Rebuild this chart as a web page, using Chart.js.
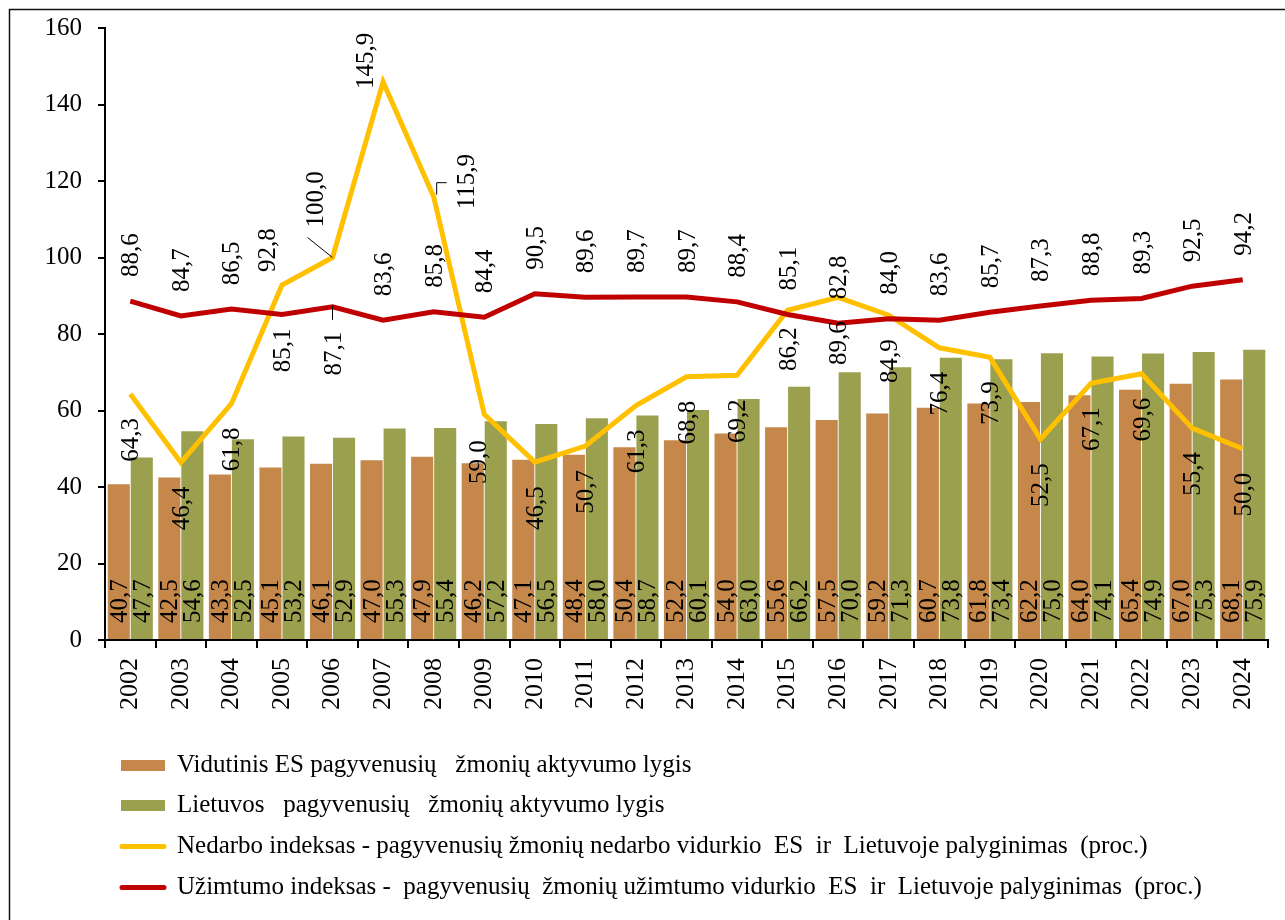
<!DOCTYPE html>
<html>
<head>
<meta charset="utf-8">
<script src="https://cdn.jsdelivr.net/npm/chart.js@4"></script>
<style>
  html, body { margin: 0; padding: 0; background: #fff; }
  #wrap { width: 1285px; height: 920px; }
</style>
</head>
<body>
<div id="wrap"><canvas id="chart" width="1285" height="920"></canvas></div>
<script>
const years = ['2002', '2003', '2004', '2005', '2006', '2007', '2008', '2009', '2010', '2011', '2012',
    '2013', '2014', '2015', '2016', '2017', '2018', '2019', '2020', '2021', '2022', '2023', '2024'];

// Vidutinis ES pagyvenusių žmonių aktyvumo lygis
const esActivity = [40.7, 42.5, 43.3, 45.1, 46.1, 47.0, 47.9, 46.2, 47.1, 48.4, 50.4, 52.2,
    54.0, 55.6, 57.5, 59.2, 60.7, 61.8, 62.2, 64.0, 65.4, 67.0, 68.1];
// Lietuvos pagyvenusių žmonių aktyvumo lygis
const ltActivity = [47.7, 54.6, 52.5, 53.2, 52.9, 55.3, 55.4, 57.2, 56.5, 58.0, 58.7, 60.1,
    63.0, 66.2, 70.0, 71.3, 73.8, 73.4, 75.0, 74.1, 74.9, 75.3, 75.9];
// Nedarbo indeksas
const unemploymentIndex = [64.3, 46.4, 61.8, 92.8, 100.0, 145.9, 115.9, 59.0, 46.5, 50.7, 61.3, 68.8,
    69.2, 86.2, 89.6, 84.9, 76.4, 73.9, 52.5, 67.1, 69.6, 55.4, 50.0];
// Užimtumo indeksas
const employmentIndex = [88.6, 84.7, 86.5, 85.1, 87.1, 83.6, 85.8, 84.4, 90.5, 89.6, 89.7, 89.7,
    88.4, 85.1, 82.8, 84.0, 83.6, 85.7, 87.3, 88.8, 89.3, 92.5, 94.2];

const seriesNames = [
    'Vidutinis ES pagyvenusių   žmonių aktyvumo lygis',
    'Lietuvos   pagyvenusių   žmonių aktyvumo lygis',
    'Nedarbo indeksas - pagyvenusių žmonių nedarbo vidurkio  ES  ir  Lietuvoje palyginimas  (proc.)',
    'Užimtumo indeksas -  pagyvenusių  žmonių užimtumo vidurkio  ES  ir  Lietuvoje palyginimas  (proc.)'
];

const yTicks = [0, 20, 40, 60, 80, 100, 120, 140, 160];

const FONT = "'Liberation Serif', 'Times New Roman', serif";
const COLORS = ['#C5874A', '#9BA04F', '#FFC000', '#C00000'];

function fmt(v) {
    return v.toFixed(1).replace('.', ',');
}

// where the odd labels go (others: line labels above/below, bar labels at the base)
const yellowPlace = {
    3: { pos: 'above', dx: -15, gap: 13 },
    4: { pos: 'above', dx: -18, gap: 30, leader: [[-25, -20], [0, 0]] },
    5: { pos: 'center', dx: -18, dy: -21 },
    6: { pos: 'center', dx: 32, dy: -15, leader: [[3, -2], [3, -14], [13, -14]] },
    7: { pos: 'below', dx: -6, gap: 26 },
    13: { pos: 'below', gap: 17 }
};
const redPlace = {
    3: { pos: 'below', gap: 14 },
    4: { pos: 'below', gap: 25, leader: [[0, -1], [0, 13]] }
};

function vText(ctx, txt, x, y, align) {
    ctx.save();
    ctx.translate(x, y);
    ctx.rotate(-Math.PI / 2);
    ctx.textAlign = align;
    ctx.fillText(txt, 0, 8);
    ctx.restore();
}

const valueLabels = {
    id: 'valueLabels',
    afterDatasetsDraw(chart) {
        const ctx = chart.ctx;
        const zeroY = chart.scales.y.getPixelForValue(0);
        ctx.save();
        ctx.font = '25px ' + FONT;
        ctx.fillStyle = '#000';
        ctx.strokeStyle = '#000';
        ctx.lineWidth = 1;
        ctx.textBaseline = 'alphabetic';
        chart.data.datasets.forEach((ds, di) => {
            const meta = chart.getDatasetMeta(di);
            meta.data.forEach((el, i) => {
                const txt = fmt(ds.data[i]);
                if (ds.labelPos === 'base') {
                    vText(ctx, txt, el.x, zeroY - 17, 'left');
                    return;
                }
                const p = Object.assign({ pos: ds.labelPos, gap: 24, dx: 0, dy: 0 }, (ds.labelPlace || {})[i]);
                const x = el.x + p.dx;
                if (p.pos === 'above') vText(ctx, txt, x, el.y - p.gap, 'left');
                else if (p.pos === 'below') vText(ctx, txt, x, el.y + p.gap, 'right');
                else vText(ctx, txt, x, el.y + p.dy, 'center');
                if (p.leader) {
                    ctx.beginPath();
                    p.leader.forEach((pt, k) => {
                        const fn = k === 0 ? 'moveTo' : 'lineTo';
                        ctx[fn](el.x + pt[0], el.y + pt[1]);
                    });
                    ctx.stroke();
                }
            });
        });
        ctx.restore();
    }
};

// frame + vertical legend under the chart
const frameAndLegend = {
    id: 'frameAndLegend',
    beforeDraw(chart) {
        const ctx = chart.ctx;
        ctx.save();
        ctx.fillStyle = '#fff';
        ctx.fillRect(0, 0, chart.width, chart.height);
        ctx.restore();
    },
    afterDraw(chart) {
        const ctx = chart.ctx;
        ctx.save();
        ctx.strokeStyle = '#111';
        ctx.lineWidth = 1.5;
        ctx.strokeRect(9.5, 9.5, 1300, 1000);

        const baselines = [772, 812, 853, 894];
        ctx.font = '25px ' + FONT;
        ctx.fillStyle = '#000';
        ctx.textBaseline = 'alphabetic';
        ctx.textAlign = 'left';
        seriesNames.forEach((name, i) => {
            const b = baselines[i];
            const cy = b - 6.5;
            if (i < 2) {
                ctx.fillStyle = COLORS[i];
                ctx.fillRect(121, cy - 5.5, 44, 11);
            } else {
                ctx.strokeStyle = COLORS[i];
                ctx.lineWidth = 5;
                ctx.lineCap = 'round';
                ctx.beginPath();
                ctx.moveTo(122, cy);
                ctx.lineTo(164, cy);
                ctx.stroke();
            }
            ctx.fillStyle = '#000';
            ctx.fillText(name, 177, b);
        });
        ctx.restore();
    }
};

const ctx = document.getElementById('chart').getContext('2d');
new Chart(ctx, {
    type: 'bar',
    data: {
        labels: years,
        datasets: [
            {
                label: seriesNames[3], type: 'line', data: employmentIndex,
                borderColor: COLORS[3], borderWidth: 5, pointRadius: 0, tension: 0,
                order: 0, labelPos: 'above', labelPlace: redPlace
            },
            {
                label: seriesNames[2], type: 'line', data: unemploymentIndex,
                borderColor: COLORS[2], borderWidth: 5, pointRadius: 0, tension: 0,
                order: 1, labelPos: 'below', labelPlace: yellowPlace
            },
            {
                label: seriesNames[0], data: esActivity, backgroundColor: COLORS[0],
                categoryPercentage: 0.91, barPercentage: 0.96, order: 2, labelPos: 'base'
            },
            {
                label: seriesNames[1], data: ltActivity, backgroundColor: COLORS[1],
                categoryPercentage: 0.91, barPercentage: 0.96, order: 2, labelPos: 'base'
            }
        ]
    },
    options: {
        responsive: false,
        animation: false,
        layout: { padding: { left: 10, top: 28, right: 17, bottom: 185 } },
        plugins: {
            legend: { display: false },
            tooltip: { enabled: false }
        },
        scales: {
            x: {
                offset: true,
                grid: { offset: true, drawOnChartArea: false, drawTicks: true, tickLength: 8, color: '#000', lineWidth: 2 },
                border: { color: '#000', width: 2 },
                ticks: {
                    color: '#000', font: { family: FONT, size: 26 },
                    minRotation: 90, maxRotation: 90, padding: 10, autoSkip: false
                },
                afterFit(s) { s.height = 95; }
            },
            y: {
                min: yTicks[0], max: yTicks[yTicks.length - 1],
                afterBuildTicks(s) { s.ticks = yTicks.map(v => ({ value: v })); },
                grid: { drawOnChartArea: false, tickLength: 7, color: '#000', lineWidth: 2 },
                border: { color: '#000', width: 2 },
                ticks: { color: '#000', font: { family: FONT, size: 25 }, padding: 16 },
                afterFit(s) {
                    s.width = 95;
                    s.paddingTop = 0;
                    s.paddingBottom = 0;
                }
            }
        }
    },
    plugins: [valueLabels, frameAndLegend]
});
</script>
</body>
</html>
